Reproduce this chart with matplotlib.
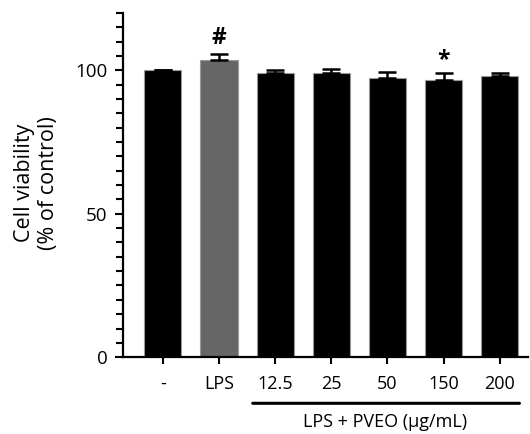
import matplotlib.pyplot as plt
from matplotlib.ticker import MultipleLocator

plt.rcParams['font.family'] = ['Open Sans', 'DejaVu Sans']

# datos
grupos = ['-', 'LPS', '12.5', '25', '50', '150', '200']
viabilidad = [100.0, 103.6, 99.2, 99.2, 97.4, 96.7, 98.1]
error = [0.0, 2.0, 1.1, 1.4, 2.1, 2.5, 1.1]
colores = ['black', '#666666', 'black', 'black', 'black', 'black', 'black']
marcas = {1: '#', 5: '*'}

fig = plt.figure(figsize=(5.30, 4.34), dpi=100)
ax = fig.add_axes([0.232, 0.177, 0.764, 0.793])

x = list(range(len(grupos)))
ax.bar(x, viabilidad, width=0.66, color=colores, edgecolor='#9a9a9a', linewidth=0.8, zorder=2)
ax.errorbar(x, viabilidad, yerr=[[0] * len(error), error], fmt='none',
            ecolor='black', elinewidth=1.8, capsize=6.5, capthick=1.8, zorder=3)

for i, s in marcas.items():
    y = viabilidad[i] + error[i] + (1.5 if s == '#' else 0.2)
    ax.text(i, y, s, ha='center', va='bottom', fontsize=16.5,
            fontweight='bold')

ax.set_xlim(-0.71, 6.5)
ax.set_ylim(0, 120)
ax.set_xticks(x)
ax.set_xticklabels(grupos, fontsize=13)
ax.set_yticks([0, 50, 100])
ax.yaxis.set_minor_locator(MultipleLocator(5))
ax.tick_params(axis='y', which='major', labelsize=13.5, width=1.5, length=6, pad=5)
ax.tick_params(axis='y', which='minor', width=1.5, length=5)
ax.tick_params(axis='x', which='major', width=1.5, length=5, pad=8)
for lado in ['top', 'right']:
    ax.spines[lado].set_visible(False)
for lado in ['left', 'bottom']:
    ax.spines[lado].set_linewidth(1.6)

ax.set_ylabel('Cell viability\n(% of control)', fontsize=15.5, linespacing=1.2)
ax.yaxis.set_label_coords(-0.158, 0.506)

# linea y etiqueta del grupo LPS + PVEO
ax.annotate('', xy=(1.6, -0.134), xycoords=('data', 'axes fraction'),
            xytext=(6.35, -0.134), textcoords=('data', 'axes fraction'),
            arrowprops=dict(arrowstyle='-', lw=2.2, color='black', shrinkA=0, shrinkB=0))
ax.text(3.95, -0.189, 'LPS + PVEO (μg/mL)', transform=ax.get_xaxis_transform(),
        ha='center', va='center', fontsize=13)

plt.savefig('out.png', dpi=100)
